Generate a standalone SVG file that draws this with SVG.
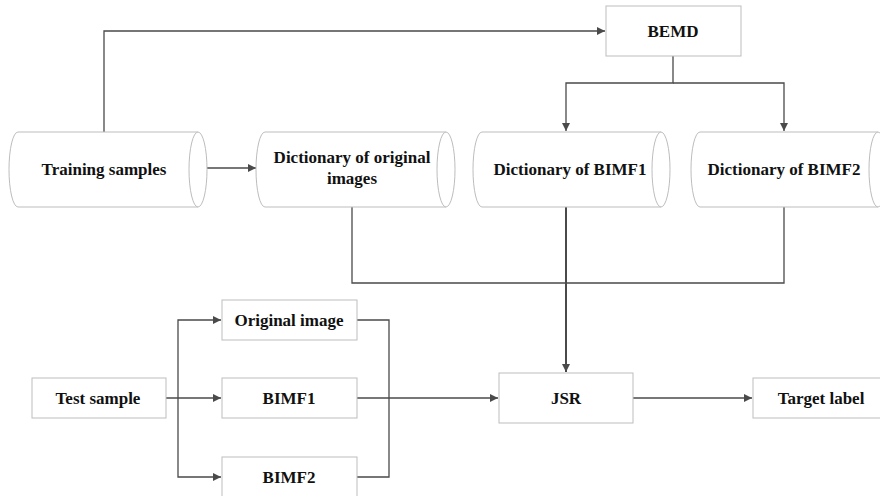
<svg xmlns="http://www.w3.org/2000/svg" width="880" height="496" viewBox="0 0 880 496">
<style>
.box{fill:#fff;stroke:#bdbdbd;stroke-width:1}
.cyl{fill:#fff;stroke:#bdbdbd;stroke-width:1}
.t{font-family:'Liberation Serif',serif;font-weight:bold;font-size:17px;fill:#111;text-anchor:middle}
.c{fill:none;stroke:#4a4a4a;stroke-width:1.3}
</style>
<defs>
<marker id="ah" viewBox="0 0 10 10" refX="10" refY="5" markerWidth="8" markerHeight="8" markerUnits="userSpaceOnUse" orient="auto">
<path d="M0,0 L10,5 L0,10 Z" fill="#4a4a4a"/>
</marker>
</defs>
<rect width="880" height="496" fill="#fff"/>
<g id="connectors">
<path class="c" d="M104,132 V31 H605" marker-end="url(#ah)"/>
<path class="c" d="M207,168 H256" marker-end="url(#ah)"/>
<path class="c" d="M673,56 V83 H566 V131" marker-end="url(#ah)"/>
<path class="c" d="M673,83 H784 V131" marker-end="url(#ah)"/>
<path class="c" d="M352,207 V283 H784 V207"/>
<path class="c" d="M566,207 V372" marker-end="url(#ah)" style="stroke-width:2"/>
<path class="c" d="M166,398 H221" marker-end="url(#ah)"/>
<path class="c" d="M178,398 V320 H221" marker-end="url(#ah)"/>
<path class="c" d="M178,398 V477 H221" marker-end="url(#ah)"/>
<path class="c" d="M357,320 H389 V477 H357"/>
<path class="c" d="M357,398 H498" marker-end="url(#ah)"/>
<path class="c" d="M633,398 H752" marker-end="url(#ah)"/>
</g>
<g id="training-samples">
<path class="cyl" d="M18,132 H198 A9,37.5 0 0 1 198,207 H18 A9,37.5 0 0 1 18,132 Z"/>
<path class="cyl" d="M198,132 A9,37.5 0 0 0 198,207"/>
<text class="t" x="104" y="175">Training samples</text>
</g>
<g id="dict-original">
<path class="cyl" d="M265,132 H446 A9,37.5 0 0 1 446,207 H265 A9,37.5 0 0 1 265,132 Z"/>
<path class="cyl" d="M446,132 A9,37.5 0 0 0 446,207"/>
<text class="t" x="352" y="163">Dictionary of original</text>
<text class="t" x="352" y="184">images</text>
</g>
<g id="dict-bimf1">
<path class="cyl" d="M482,132 H661 A9,37.5 0 0 1 661,207 H482 A9,37.5 0 0 1 482,132 Z"/>
<path class="cyl" d="M661,132 A9,37.5 0 0 0 661,207"/>
<text class="t" x="570" y="175">Dictionary of BIMF1</text>
</g>
<g id="dict-bimf2">
<path class="cyl" d="M700,132 H878 A9,37.5 0 0 1 878,207 H700 A9,37.5 0 0 1 700,132 Z"/>
<path class="cyl" d="M878,132 A9,37.5 0 0 0 878,207"/>
<text class="t" x="784" y="175">Dictionary of BIMF2</text>
</g>
<g id="bemd">
<rect class="box" x="606" y="6" width="135" height="50"/>
<text class="t" x="673" y="37">BEMD</text>
</g>
<g id="test-sample">
<rect class="box" x="32" y="378" width="134" height="40"/>
<text class="t" x="98" y="404">Test sample</text>
</g>
<g id="original-image">
<rect class="box" x="222" y="300" width="135" height="40"/>
<text class="t" x="289" y="326">Original image</text>
</g>
<g id="bimf1">
<rect class="box" x="222" y="378" width="135" height="40"/>
<text class="t" x="289" y="404">BIMF1</text>
</g>
<g id="bimf2">
<rect class="box" x="222" y="457" width="135" height="40"/>
<text class="t" x="289" y="483">BIMF2</text>
</g>
<g id="jsr">
<rect class="box" x="499" y="373" width="134" height="50"/>
<text class="t" x="566" y="404">JSR</text>
</g>
<g id="target-label">
<rect class="box" x="753" y="378" width="134" height="40"/>
<text class="t" x="821" y="404">Target label</text>
</g>
</svg>
